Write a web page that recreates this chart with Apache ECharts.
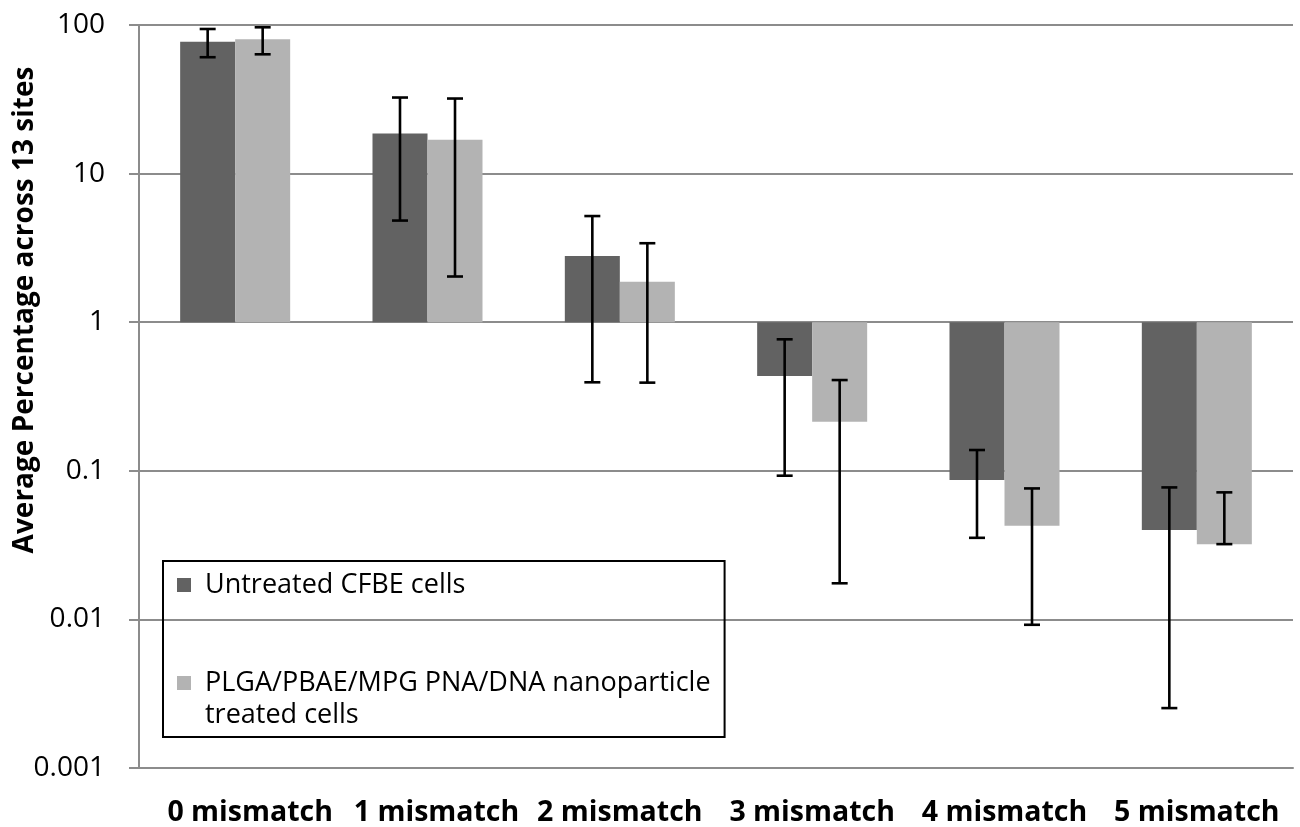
<!DOCTYPE html>
<html>
<head>
<meta charset="utf-8">
<script src="https://cdn.jsdelivr.net/npm/echarts@6/dist/echarts.min.js"></script>
<style>html,body{margin:0;padding:0;background:#fff}#chart{width:1300px;height:827px}</style>
</head>
<body>
<div id="chart"></div>
<script>
const categories = ['0 mismatch', '1 mismatch', '2 mismatch', '3 mismatch', '4 mismatch', '5 mismatch'];
const seriesNames = ['Untreated CFBE cells', 'PLGA/PBAE/MPG PNA/DNA nanoparticle treated cells'];
const untreated     = [77.0, 18.6, 2.79, 0.434, 0.0866, 0.0399];
const untreatedLow  = [60.7, 4.83, 0.394, 0.0927, 0.0354, 0.00253];
const untreatedHigh = [94.0, 32.5, 5.18, 0.767, 0.138, 0.0773];
const treated       = [80.1, 16.9, 1.87, 0.214, 0.0426, 0.0321];
const treatedLow    = [63.5, 2.03, 0.392, 0.0175, 0.0092, 0.0321];
const treatedHigh   = [96.5, 32.0, 3.40, 0.408, 0.0761, 0.0716];
const yTickLabels = {'0.001': '0.001', '0.01': '0.01', '0.1': '0.1', '1': '1', '10': '10', '100': '100'};

const FONT = 'Open Sans';
const chart = echarts.init(document.getElementById('chart'));

function makeData(vals, lo, hi) {
  return vals.map((v, i) => [i, v, lo[i], hi[i]]);
}

function renderBar(params, api) {
  const ci = api.value(0), v = api.value(1), lo = api.value(2), hi = api.value(3);
  const band = api.size([1, 1])[0];
  const barW = band * 0.286;
  const base = api.coord([ci, 1]);
  const top = api.coord([ci, v]);
  const x0 = params.seriesIndex === 0 ? base[0] - barW : base[0];
  const cx = x0 + barW / 2;
  const yLo = api.coord([ci, lo])[1];
  const yHi = api.coord([ci, hi])[1];
  const cap = 8;
  const ls = { stroke: '#000', lineWidth: 2.6 };
  return {
    type: 'group',
    children: [
      { type: 'rect', shape: { x: x0, y: Math.min(base[1], top[1]), width: barW, height: Math.abs(base[1] - top[1]) },
        style: { fill: api.visual('color') } },
      { type: 'line', shape: { x1: cx, y1: yHi, x2: cx, y2: yLo }, style: ls, z2: 10 },
      { type: 'line', shape: { x1: cx - cap, y1: yHi, x2: cx + cap, y2: yHi }, style: ls, z2: 10 },
      { type: 'line', shape: { x1: cx - cap, y1: yLo, x2: cx + cap, y2: yLo }, style: ls, z2: 10 }
    ]
  };
}

const option = {
  backgroundColor: '#fff',
  animation: false,
  grid: { left: 139, right: 7, top: 25, bottom: 59 },
  xAxis: {
    type: 'category',
    data: categories.map((c, i) => i === 0 ? { value: c, textStyle: { padding: [0, 0, 0, 30] } } :
                                   i === 1 ? { value: c, textStyle: { padding: [0, 0, 0, 18] } } : c),
    axisLine: { onZero: false, lineStyle: { color: '#8c8c8c', width: 2 } },
    axisTick: { show: false },
    axisLabel: { margin: 30, fontFamily: FONT, fontSize: 28.5, fontWeight: 'bold', color: '#000', interval: 0 },
    splitLine: { show: false }
  },
  yAxis: {
    type: 'log',
    logBase: 10,
    min: 0.001,
    max: 100,
    axisLine: { show: true, lineStyle: { color: '#8c8c8c', width: 2 } },
    axisTick: { show: true, length: 10, lineStyle: { color: '#8c8c8c', width: 2 } },
    axisLabel: { margin: 34, fontFamily: FONT, fontSize: 28, color: '#000',
      formatter: v => yTickLabels[String(+v.toPrecision(6))] || String(v) },
    splitLine: { show: true, lineStyle: { color: '#8c8c8c', width: 2 } },
    minorTick: { show: false }
  },
  legend: {
    orient: 'vertical',
    left: 163,
    top: 561,
    borderColor: '#000',
    borderWidth: 2,
    padding: [8, 14, 6, 14],
    itemGap: 34,
    itemWidth: 14,
    itemHeight: 14,
    icon: 'rect',
    textStyle: { fontFamily: FONT, fontSize: 27, color: '#000', lineHeight: 32, padding: [0, 0, 0, 9] },
    data: [
      { name: seriesNames[0] },
      { name: seriesNames[1] }
    ],
    formatter: name => name === seriesNames[1] ? ' \nPLGA/PBAE/MPG PNA/DNA nanoparticle\ntreated cells' : name
  },
  graphic: [{
    type: 'text',
    x: 25, y: 310,
    rotation: Math.PI / 2,
    style: { text: 'Average Percentage across 13 sites', fontFamily: FONT, fontSize: 28, fontWeight: 'bold',
      fill: '#000', align: 'center', verticalAlign: 'middle' }
  }],
  series: [
    { name: seriesNames[0], type: 'custom', renderItem: renderBar, itemStyle: { color: '#626262' },
      encode: { x: 0, y: [1, 2, 3] }, data: makeData(untreated, untreatedLow, untreatedHigh), z: 3 },
    { name: seriesNames[1], type: 'custom', renderItem: renderBar, itemStyle: { color: '#b3b3b3' },
      encode: { x: 0, y: [1, 2, 3] }, data: makeData(treated, treatedLow, treatedHigh), z: 3 }
  ]
};
chart.setOption(option);
</script>
</body>
</html>
